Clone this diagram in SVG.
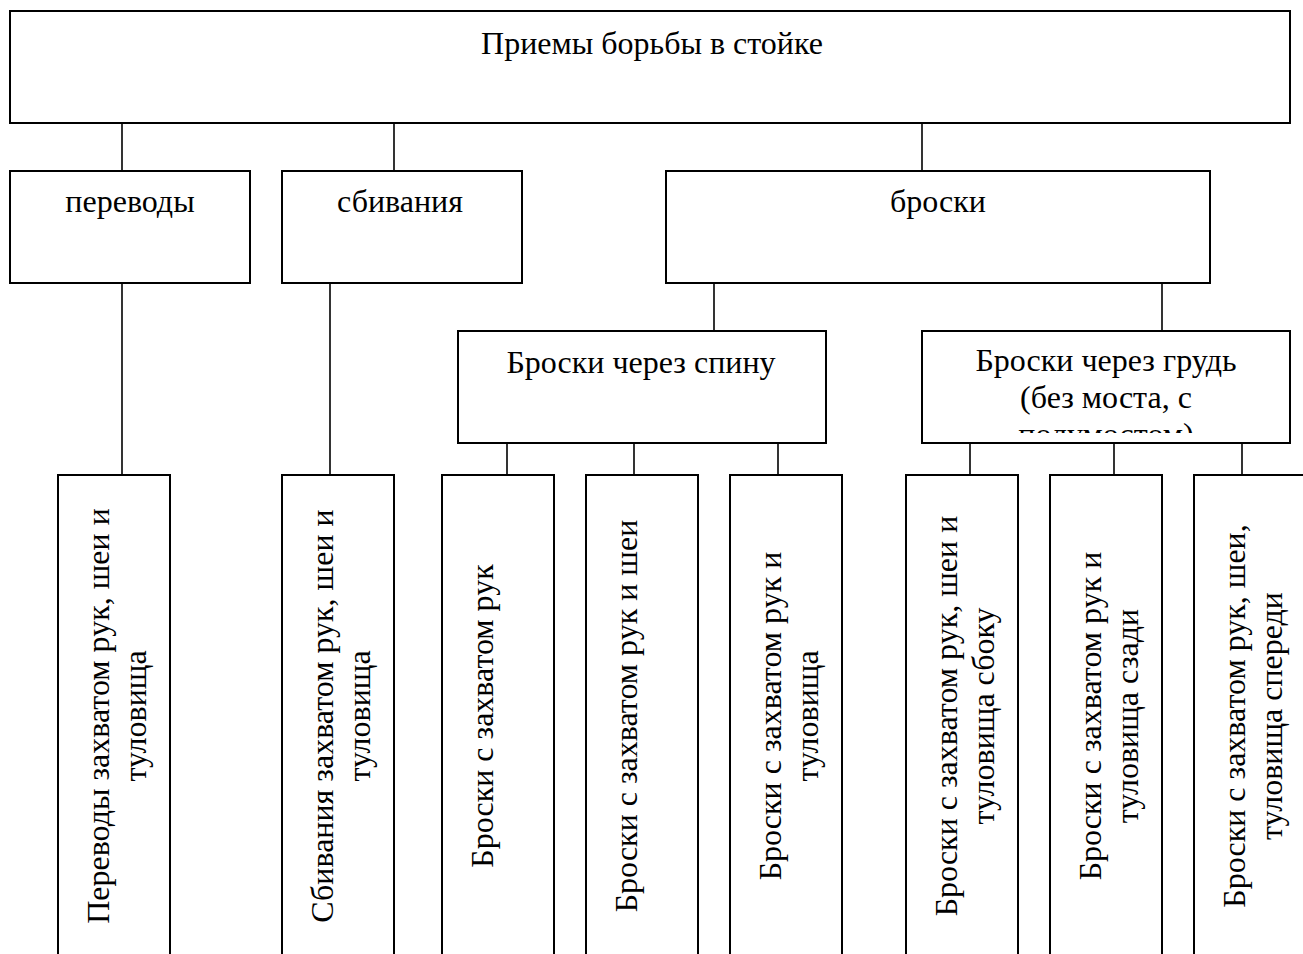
<svg xmlns="http://www.w3.org/2000/svg" width="1303" height="954" viewBox="0 0 1303 954">
<style>
.box{fill:#fff;stroke:#000;stroke-width:2}
.ln{stroke:#000;stroke-width:1.6;fill:none}
text{font-family:"Liberation Serif","Times New Roman",serif;font-size:32px;fill:#000;text-anchor:middle}
</style>
<defs>
<clipPath id="clipGrud"><rect x="924" y="333" width="364" height="100"/></clipPath>
</defs>
<rect width="1303" height="954" fill="#fff"/>
<g id="connectors">
<line class="ln" x1="122" y1="123" x2="122" y2="171"/>
<line class="ln" x1="394" y1="123" x2="394" y2="171"/>
<line class="ln" x1="922" y1="123" x2="922" y2="171"/>
<line class="ln" x1="122" y1="283" x2="122" y2="475"/>
<line class="ln" x1="330" y1="283" x2="330" y2="475"/>
<line class="ln" x1="714" y1="283" x2="714" y2="331"/>
<line class="ln" x1="1162" y1="283" x2="1162" y2="331"/>
<line class="ln" x1="507" y1="443" x2="507" y2="475"/>
<line class="ln" x1="634" y1="443" x2="634" y2="475"/>
<line class="ln" x1="778" y1="443" x2="778" y2="475"/>
<line class="ln" x1="970" y1="443" x2="970" y2="475"/>
<line class="ln" x1="1114" y1="443" x2="1114" y2="475"/>
<line class="ln" x1="1242" y1="443" x2="1242" y2="475"/>
</g>
<g id="root"><rect class="box" x="10" y="11" width="1280" height="112"/><text x="652" y="54">Приемы борьбы в стойке</text></g>
<g id="perevody"><rect class="box" x="10" y="171" width="240" height="112"/><text x="130" y="212">переводы</text></g>
<g id="sbivaniya"><rect class="box" x="282" y="171" width="240" height="112"/><text x="400" y="212">сбивания</text></g>
<g id="broski"><rect class="box" x="666" y="171" width="544" height="112"/><text x="938" y="212">броски</text></g>
<g id="spinu"><rect class="box" x="458" y="331" width="368" height="112"/><text x="641" y="372.5">Броски через спину</text></g>
<g id="grud"><rect class="box" x="922" y="331" width="368" height="112"/>
<g clip-path="url(#clipGrud)"><text x="1106" y="371">Броски через грудь</text><text x="1106" y="408">(без моста, с</text><text x="1106" y="445">полумостом)</text></g></g>
<g id="b1"><rect class="box" x="58" y="475" width="112" height="490"/><text transform="translate(109.3,716) rotate(-90)">Переводы захватом рук, шеи и</text><text transform="translate(146,716) rotate(-90)">туловища</text></g>
<g id="b2"><rect class="box" x="282" y="475" width="112" height="490"/><text transform="translate(333.3,716) rotate(-90)">Сбивания захватом рук, шеи и</text><text transform="translate(370,716) rotate(-90)">туловища</text></g>
<g id="b3"><rect class="box" x="442" y="475" width="112" height="490"/><text transform="translate(493.3,716) rotate(-90)">Броски с захватом рук</text></g>
<g id="b4"><rect class="box" x="586" y="475" width="112" height="490"/><text transform="translate(637.3,716) rotate(-90)">Броски с захватом рук и шеи</text></g>
<g id="b5"><rect class="box" x="730" y="475" width="112" height="490"/><text transform="translate(781.3,716) rotate(-90)">Броски с захватом рук и</text><text transform="translate(818,716) rotate(-90)">туловища</text></g>
<g id="b6"><rect class="box" x="906" y="475" width="112" height="490"/><text transform="translate(957.3,716) rotate(-90)">Броски с захватом рук, шеи и</text><text transform="translate(994,716) rotate(-90)">туловища сбоку</text></g>
<g id="b7"><rect class="box" x="1050" y="475" width="112" height="490"/><text transform="translate(1101.3,716) rotate(-90)">Броски с захватом рук и</text><text transform="translate(1138,716) rotate(-90)">туловища сзади</text></g>
<g id="b8"><rect class="box" x="1194" y="475" width="112" height="490"/><text transform="translate(1245.3,716) rotate(-90)">Броски с захватом рук, шеи,</text><text transform="translate(1282,716) rotate(-90)">туловища спереди</text></g>
</svg>
